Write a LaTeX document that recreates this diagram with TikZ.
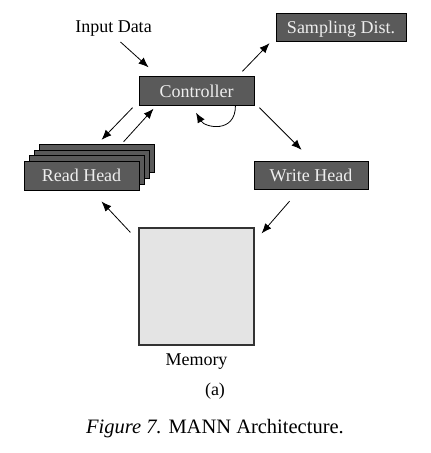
\documentclass[tikz,border=0pt]{standalone}
\usepackage{fontspec}
\setmainfont{Liberation Serif}
\usetikzlibrary{arrows.meta,calc}
\definecolor{boxfill}{HTML}{5A5A5A}
\definecolor{boxtext}{HTML}{EEEEEE}
\definecolor{memfill}{HTML}{E4E4E4}
\begin{document}
\begin{tikzpicture}[x=1pt,y=-1pt,
  darkbox/.style={draw=black,line width=0.9pt,fill=boxfill,text=boxtext,
    minimum height=28.5pt,inner sep=0pt,font=\fontsize{18}{20}\selectfont,
    text height=12pt,text depth=0pt},
  membox/.style={draw=black!80,line width=1.2pt,fill=memfill,minimum width=115pt,minimum height=117pt,inner sep=0pt},
  lbl/.style={inner sep=0pt,anchor=base,font=\fontsize{18}{20}\selectfont},
  arr/.style={line width=0.8pt,-{Latex[length=10pt,width=8pt]}}]
\useasboundingbox (0,0) rectangle (431,453);
% nodes
\node[lbl] (input) at (113.5,32) {Input Data};
\node[darkbox,minimum width=130pt] (samp) at (341,27.5) {Sampling Dist.};
\node[darkbox,minimum width=115pt] (ctrl) at (196.5,91) {Controller};
\node[darkbox,minimum width=115pt] (rh3) at (96.5,158.5) {};
\node[darkbox,minimum width=115pt] (rh2) at (91.5,164.2) {};
\node[darkbox,minimum width=115pt] (rh1) at (86.5,170) {};
\node[darkbox,minimum width=115pt] (rh0) at (81.5,175.8) {Read Head};
\node[darkbox,minimum width=114pt] (write) at (311,175.5) {Write Head};
\node[membox] (mem) at (196.5,286.5) {};
\node[lbl] (memlbl) at (196.5,365.5) {Memory};
\node[lbl] (sub) at (215,395.5) {(a)};
\node[inner sep=0pt,anchor=base,font=\fontsize{20.5}{23}\selectfont] (cap) at (215,433) {\textit{Figure 7.} MANN Architecture.};
% connectors
\draw[arr] ([shift={(7,10)}]input.base) -- ([shift={(10,-9)}]ctrl.north west);
\draw[arr] ([shift={(-12,-5)}]ctrl.north east) -- ([shift={(-6,1)}]samp.south west);
\draw[arr] ([shift={(-6,2)}]ctrl.south west) -- ([shift={(63,-4)}]rh3.north west);
\draw[arr] ([shift={(85,-2)}]rh3.north west) -- ([shift={(15,3)}]ctrl.south west);
\draw[arr] ([shift={(5,2)}]ctrl.south east) -- ([shift={(48,-11)}]write.north west);
\draw[arr] ([shift={(36,11)}]write.south west) -- ([shift={(7,6)}]mem.north east);
\draw[arr] ([shift={(-8,5)}]mem.north west) -- ([shift={(20,11)}]rh0.south);
\draw[arr] ([xshift=-19pt]ctrl.south east) .. controls +(0,28) and +(9,15) .. ([shift={(-0.5,7)}]ctrl.south);
\end{tikzpicture}
\end{document}
